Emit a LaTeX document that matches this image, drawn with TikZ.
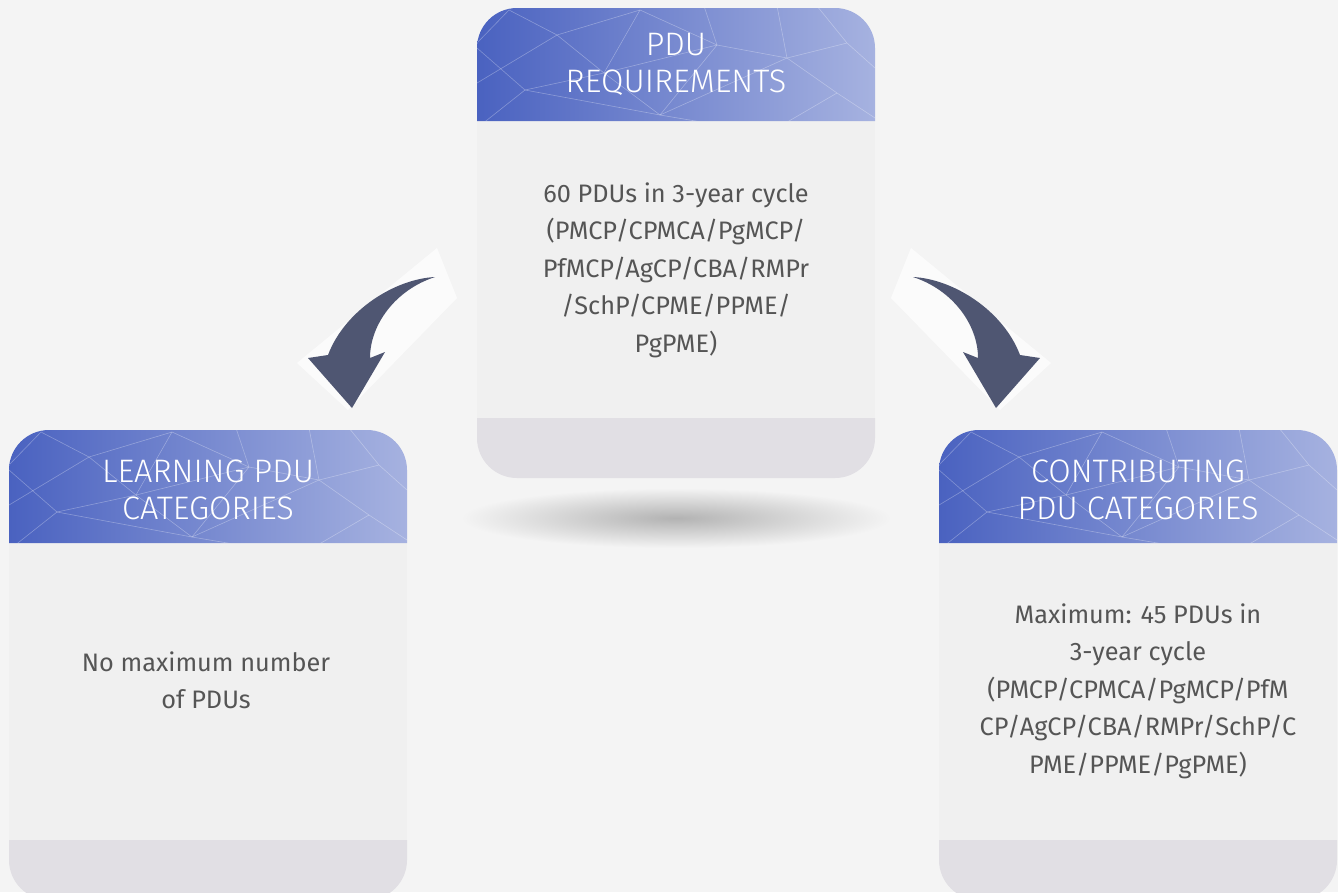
\documentclass[tikz,border=0pt]{standalone}
\usepackage{fontspec}
\setmainfont{Fira Sans}
\newfontfamily\hfont{Fira Sans Light}
\definecolor{bg}{HTML}{F4F4F4}
\definecolor{bodyc}{HTML}{F0F0F0}
\definecolor{footc}{HTML}{E1DFE4}
\definecolor{hdA}{HTML}{4A62C0}
\definecolor{hdB}{HTML}{A6B2E0}
\definecolor{txt}{HTML}{555555}
\definecolor{arrowc}{HTML}{4F5672}
\tikzset{
  latt/.style={white,opacity=0.3,line width=0.6pt},
  headtxt/.style={white,align=center,font=\hfont\fontsize{32.5}{37}\selectfont},
  bodytxt/.style={txt,align=center,font=\fontsize{25.3}{37.5}\selectfont},
  arrowbg/.style={fill=white,opacity=0.7},
  arrowfill/.style={fill=arrowc}
}
\newcommand\lattice{%
  \draw[latt] (0,35)--(32,2)--(80,27)--(163,2)--(240,37)--(227,-2);
  \draw[latt] (80,27)--(127,65)--(48,82)--(0,40);
  \draw[latt] (127,65)--(240,37)--(310,50)--(370,35)--(398,60);
  \draw[latt] (48,82)--(0,120);
  \draw[latt] (127,65)--(183,107)--(240,37);
  \draw[latt] (48,82)--(183,107)--(310,50)--(360,85)--(398,110);
  \draw[latt] (310,50)--(300,-2); \draw[latt] (370,35)--(340,-2);
  \draw[latt] (183,107)--(260,120); \draw[latt] (360,85)--(300,120);
  \draw[latt] (163,2)--(127,65); \draw[latt] (80,27)--(0,75);
}
\newcommand\cardshape[2]{%
  \begin{scope}[shift={(#1,#2)}]
    \fill[bodyc] (0,113) rectangle (398,410);
    \fill[footc] (0,410) [rounded corners=40pt] -- (0,470) -- (398,470) [sharp corners] -- (398,410) -- cycle;
    \begin{scope}
      \clip (0,113) [rounded corners=40pt] -- (0,0) -- (398,0) [sharp corners] -- (398,113) -- cycle;
      \shade[left color=hdA,right color=hdB] (0,0) rectangle (398,113);
      \lattice
    \end{scope}
  \end{scope}}
\newcommand\curvearrow{%
  \fill[arrowbg] (437,248) -- (457,298) -- (348,410) -- (297,363) -- cycle;
  \fill[arrowfill] (435,277) .. controls (395,279) and (345,310) .. (328,355)
    -- (308,358) -- (352,408) -- (385,352) -- (370,358)
    .. controls (370,325) and (395,290) .. (435,277) -- cycle;
}
\begin{document}
\begin{tikzpicture}[x=1pt,y=-1pt]
\useasboundingbox (0,0) rectangle (1338,892);
\fill[bg] (0,0) rectangle (1338,892);
\begin{scope}
\clip (0,0) rectangle (1338,892);
% shadow under centre card
\shade[inner color=black!30,outer color=bg] (676,518) ellipse (215 and 30);
\cardshape{477}{8}
\cardshape{9}{430}
\cardshape{939}{430}
\curvearrow
\begin{scope}[shift={(1348,0)},xscale=-1]
\curvearrow
\end{scope}
\end{scope}
\node[headtxt] (reqh) at (676,64.5) {PDU\\REQUIREMENTS};
\node[bodytxt] (reqb) at (676,270) {60 PDUs in 3-year cycle\\(PMCP/CPMCA/PgMCP/\\PfMCP/AgCP/CBA/RMPr\\/SchP/CPME/PPME/\\PgPME)};
\node[headtxt] (learnh) at (208,489.5) {LEARNING PDU\\CATEGORIES};
\node[bodytxt] (learnb) at (206,680.5) {No maximum number\\of PDUs};
\node[headtxt] (conth) at (1138,489.5) {CONTRIBUTING\\PDU CATEGORIES};
\node[bodytxt] (contb) at (1138,691) {Maximum: 45 PDUs in\\3-year cycle\\(PMCP/CPMCA/PgMCP/PfM\\CP/AgCP/CBA/RMPr/SchP/C\\PME/PPME/PgPME)};
\end{tikzpicture}
\end{document}
